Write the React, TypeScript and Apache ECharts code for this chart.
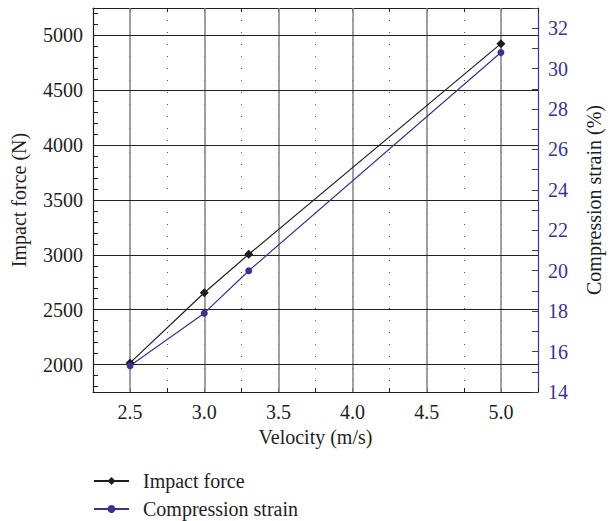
import React, { useEffect, useRef } from "react";
import * as echarts from "echarts";

const velocity = [2.5, 3.0, 3.3, 5.0];
const impactForce = [2015, 2655, 3005, 4925];
const compressionStrain = [15.3, 17.9, 20.0, 30.8];

const xMajor = [2.5, 3.0, 3.5, 4.0, 4.5, 5.0];
const leftLabels = [2000, 2500, 3000, 3500, 4000, 4500, 5000];
const leftTicks = [
  1800, 1900, 2000, 2100, 2200, 2300, 2400, 2500, 2600, 2700, 2800, 2900, 3000,
  3100, 3200, 3300, 3400, 3500, 3600, 3700, 3800, 3900, 4000, 4100, 4200, 4300,
  4400, 4500, 4600, 4700, 4800, 4900, 5000, 5100, 5200,
];

const FONT = "Liberation Serif";
const BLUE = "#3a3391";
const DARK = "#1e1e1e";

export default function App() {
  const ref = useRef<HTMLDivElement>(null);
  useEffect(() => {
    if (!ref.current) return;
    const chart = echarts.init(ref.current, null, { renderer: "svg" });
    const isMajorX = (v: number) => Math.abs(v * 2 - Math.round(v * 2)) < 1e-6;
    chart.setOption({
      animation: false,
      backgroundColor: "#fff",
      grid: { left: 93, right: 65, top: 8, bottom: 129, containLabel: false },
      legend: {
        orient: "vertical",
        left: 93,
        top: 471,
        height: 60,
        padding: 0,
        itemWidth: 35,
        itemHeight: 10,
        itemGap: 8,
        data: ["Impact force", "Compression strain"],
        textStyle: { fontFamily: FONT, fontSize: 20, color: DARK, padding: [0, 0, 0, 9] },
      },
      xAxis: [
        {
          type: "value",
          position: "bottom",
          min: 2.25,
          max: 5.25,
          interval: 0.25,
          name: "Velocity (m/s)",
          nameLocation: "middle",
          nameGap: 32,
          nameTextStyle: { fontFamily: FONT, fontSize: 20, color: DARK },
          axisLine: { show: true, lineStyle: { color: DARK, width: 1.2 } },
          axisTick: { show: true, inside: true, length: 4, lineStyle: { color: DARK } },
          axisLabel: {
            fontFamily: FONT,
            fontSize: 20,
            color: DARK,
            margin: 10,
            formatter: (v: number) => (isMajorX(v) ? v.toFixed(1) : ""),
          },
          splitLine: { show: true, lineStyle: { color: "#555", width: 1, type: [1, 11] } },
        },
        {
          type: "value",
          position: "top",
          min: 2.25,
          max: 5.25,
          interval: 0.25,
          axisLine: { show: true, lineStyle: { color: DARK, width: 1.2 } },
          axisTick: { show: true, inside: true, length: 4, lineStyle: { color: DARK } },
          axisLabel: { show: false },
          splitLine: { show: false },
        },
      ],
      yAxis: [
        {
          type: "value",
          position: "left",
          min: 1750,
          max: 5250,
          name: "Impact force (N)",
          nameLocation: "middle",
          nameGap: 64,
          nameRotate: 90,
          nameTextStyle: { fontFamily: FONT, fontSize: 20, color: DARK },
          axisLine: { show: true, lineStyle: { color: DARK, width: 1.2 } },
          axisTick: {
            show: true,
            inside: true,
            length: 5,
            customValues: leftTicks,
            lineStyle: { color: DARK },
          },
          axisLabel: {
            fontFamily: FONT,
            fontSize: 20,
            color: DARK,
            margin: 10,
            customValues: leftLabels,
            formatter: (v: number) => String(v),
          },
          splitLine: { show: false },
        },
        {
          type: "value",
          position: "right",
          min: 14,
          max: 33,
          interval: 1,
          name: "Compression strain (%)",
          nameLocation: "middle",
          nameGap: 46,
          nameRotate: 90,
          nameTextStyle: { fontFamily: FONT, fontSize: 20, color: DARK },
          axisLine: { show: true, lineStyle: { color: BLUE, width: 1.2 } },
          axisTick: { show: true, inside: true, length: 6, lineStyle: { color: BLUE } },
          axisLabel: {
            fontFamily: FONT,
            fontSize: 20,
            color: BLUE,
            margin: 10,
            formatter: (v: number) => (v % 2 === 0 ? String(v) : ""),
          },
          splitLine: { show: false },
        },
      ],
      series: [
        {
          name: "grid",
          type: "line",
          xAxisIndex: 0,
          yAxisIndex: 0,
          data: [],
          silent: true,
          markLine: {
            silent: true,
            z: 1,
            symbol: ["none", "none"],
            label: { show: false },
            animation: false,
            data: [
              ...xMajor.map((v) => ({ xAxis: v, lineStyle: { color: "#8a8a8a", width: 1.6, type: "solid" } })),
              ...leftLabels.map((v) => ({ yAxis: v, lineStyle: { color: "#222", width: 1, type: "solid" } })),
            ],
          },
        },
        {
          name: "Impact force",
          type: "line",
          xAxisIndex: 0,
          yAxisIndex: 0,
          z: 4,
          data: velocity.map((v, i) => [v, impactForce[i]]),
          symbol: "diamond",
          symbolSize: 9,
          itemStyle: { color: DARK },
          lineStyle: { color: DARK, width: 1.2 },
        },
        {
          name: "Compression strain",
          type: "line",
          xAxisIndex: 0,
          yAxisIndex: 1,
          z: 4,
          data: velocity.map((v, i) => [v, compressionStrain[i]]),
          symbol: "circle",
          symbolSize: 7,
          itemStyle: { color: BLUE },
          lineStyle: { color: BLUE, width: 1.2 },
        },
      ],
    });
    return () => chart.dispose();
  }, []);
  return (
    <div
      ref={ref}
      style={{ position: "absolute", left: 0, top: 0, width: 612, height: 521, background: "#fff" }}
    />
  );
}
